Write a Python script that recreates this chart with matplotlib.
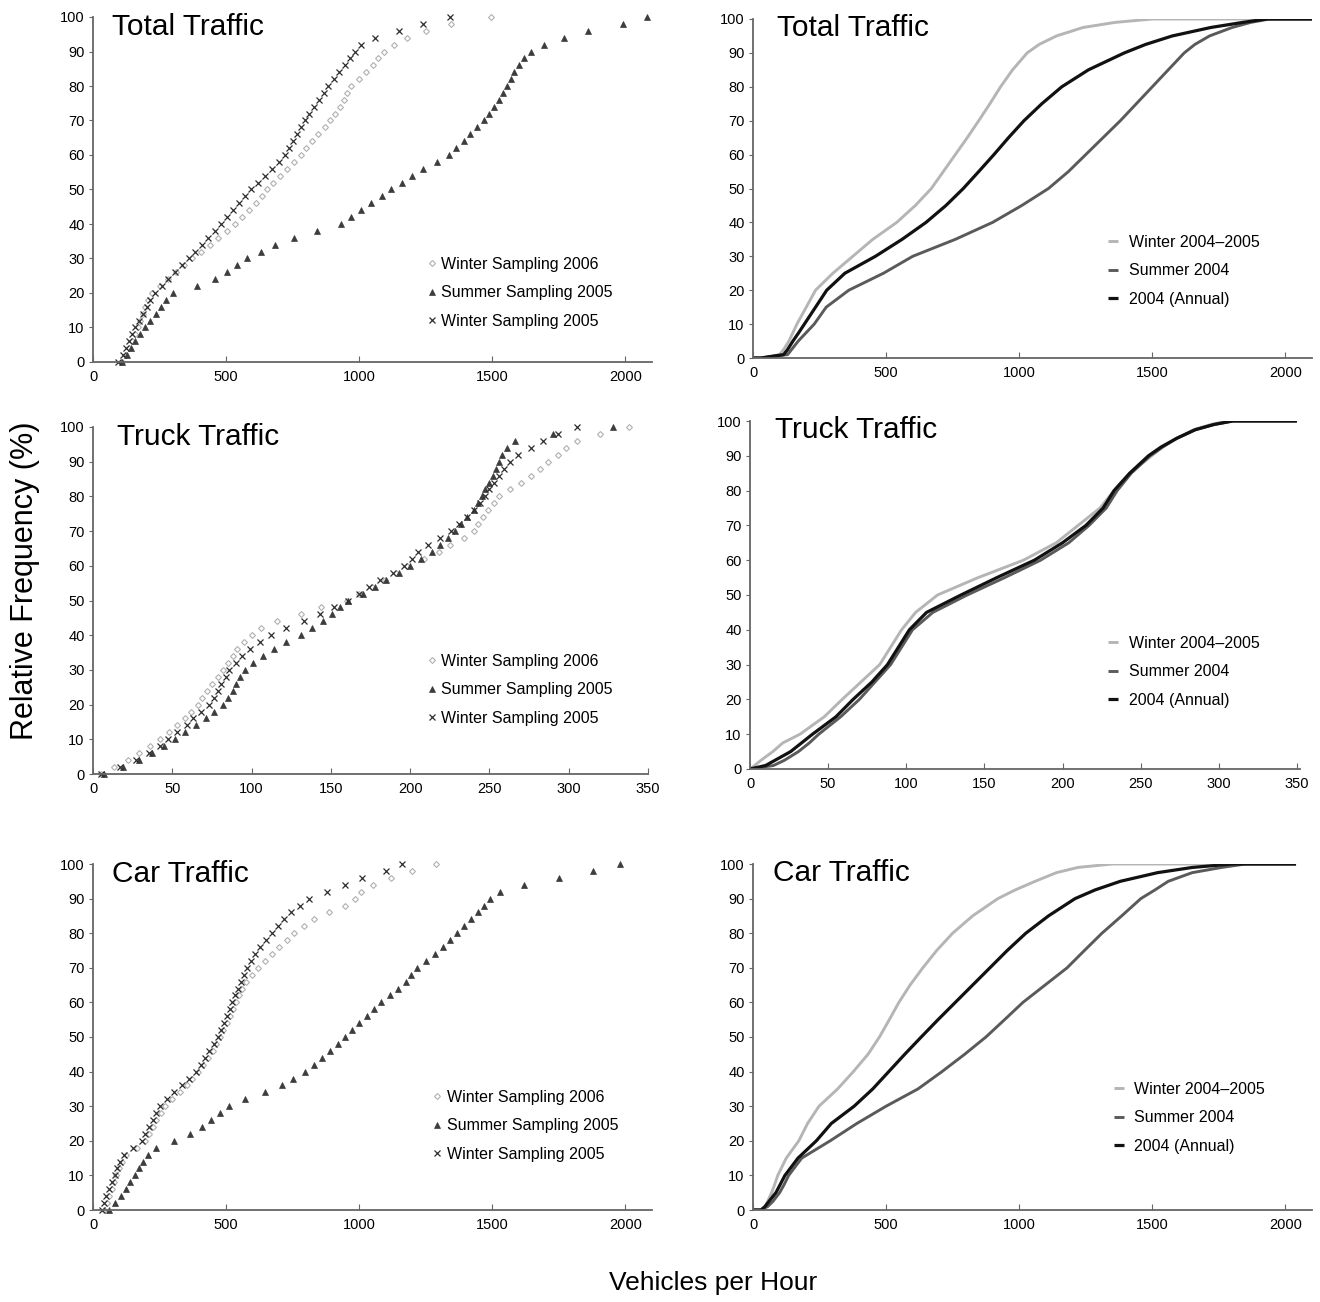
import matplotlib
matplotlib.use("Agg")
import matplotlib.pyplot as plt

plt.rcParams['font.family'] = ['Liberation Sans', 'DejaVu Sans']

# ---------------- DATA ----------------
# Left column: sampled observations (vehicles/hour), sorted; plotted as empirical CDF
pct_levels = [0, 2, 4, 6, 8, 10, 12, 14, 16, 18, 20, 22, 24, 26, 28, 30, 32, 34, 36, 38,
              40, 42, 44, 46, 48, 50, 52, 54, 56, 58, 60, 62, 64, 66, 68, 70, 72, 74, 76, 78,
              80, 82, 84, 86, 88, 90, 92, 94, 96, 98, 100]

total_winter2006 = [110, 122, 134, 146, 158, 168, 178, 188, 197, 208, 222, 252, 280, 311, 343, 372,
                    406, 439, 471, 503, 535, 559, 586, 612, 636, 655, 675, 701, 729, 756, 780,
                    800, 823, 847, 870, 890, 910, 927, 942, 956, 970, 998, 1026, 1050, 1071, 1095,
                    1130, 1180, 1250, 1345, 1495]
total_summer2005 = [110, 126, 142, 159, 176, 195, 215, 235, 255, 276, 300, 390, 460, 502, 540, 577,
                    630, 685, 755, 842, 930, 970, 1008, 1045, 1084, 1121, 1160, 1198, 1240, 1292, 1338,
                    1365, 1392, 1418, 1443, 1467, 1487, 1506, 1524, 1540, 1556, 1570, 1583, 1600, 1620,
                    1644, 1695, 1770, 1860, 1990, 2080]
total_winter2005 = [95, 111, 124, 136, 148, 157, 171, 187, 202, 216, 232, 258, 283, 308, 334, 360,
                    384, 408, 433, 458, 482, 504, 527, 549, 570, 592, 618, 646, 673, 697, 720,
                    736, 752, 767, 781, 795, 813, 831, 849, 866, 884, 905, 925, 945, 965, 985,
                    1008, 1060, 1150, 1240, 1340]

truck_winter2006 = [5, 13, 22, 29, 36, 42, 48, 53, 58, 62, 66, 69, 72, 75, 79, 82, 85, 88, 91, 95,
                    100, 106, 116, 131, 144, 160, 168, 176, 184, 191, 198, 209, 218, 225, 234, 240,
                    243, 246, 249, 253, 256, 263, 270, 276, 282, 287, 293, 298, 305, 320, 338]
truck_summer2005 = [7, 19, 29, 37, 45, 52, 58, 65, 71, 76, 82, 85, 88, 90, 93, 96, 101, 107, 114, 122,
                    131, 138, 145, 151, 156, 161, 170, 178, 185, 193, 200, 207, 214, 219, 224, 228,
                    232, 236, 240, 243, 245, 247, 250, 252, 254, 256, 258, 261, 266, 290, 328]
truck_winter2005 = [5, 17, 27, 35, 42, 47, 53, 59, 63, 68, 73, 76, 79, 81, 84, 86, 90, 94, 99, 105,
                    112, 122, 133, 143, 152, 161, 168, 174, 181, 189, 196, 201, 205, 211, 219, 226,
                    231, 236, 240, 244, 247, 250, 253, 256, 259, 263, 268, 276, 284, 293, 305]

car_winter2006 = [41, 52, 61, 70, 79, 88, 99, 110, 125, 165, 197, 212, 225, 238, 254, 272,
                  298, 326, 352, 373, 395, 415, 433, 449, 463, 476, 490, 503, 515, 526, 537,
                  548, 559, 575, 596, 619, 645, 673, 700, 727, 755, 791, 830, 885, 945, 986,
                  1005, 1050, 1120, 1200, 1290]
car_summer2005 = [61, 84, 106, 124, 140, 156, 173, 189, 205, 235, 306, 365, 410, 445, 478, 510,
                  570, 645, 710, 751, 796, 830, 862, 892, 919, 946, 973, 1000, 1028, 1056, 1082,
                  1114, 1147, 1174, 1196, 1218, 1250, 1283, 1313, 1340, 1367, 1393, 1421, 1446, 1468,
                  1490, 1530, 1620, 1750, 1880, 1980]
car_winter2005 = [34, 42, 50, 60, 71, 82, 92, 103, 118, 150, 184, 197, 211, 225, 238, 252,
                  278, 306, 334, 362, 388, 406, 421, 437, 454, 469, 480, 491, 502, 513, 524,
                  535, 546, 556, 567, 578, 594, 610, 629, 651, 673, 695, 717, 745, 778, 810,
                  880, 945, 1010, 1100, 1160]

# Right column: continuous-count CDFs, x value at each cumulative level (%)
cdf_levels = [0, 0, 1, 2.5, 5, 7.5, 10, 15, 20, 25, 30, 35, 40, 45, 50, 55, 60, 65, 70, 75,
              80, 85, 90, 92.5, 95, 97.5, 99, 100, 100]

tot_winter0405 = [0, 30, 100, 115, 135, 150, 165, 200, 235, 300, 375, 450, 540, 610, 670, 715,
                  760, 805, 848, 890, 930, 975, 1030, 1075, 1140, 1240, 1360, 1500, 2100]
tot_summer04 = [0, 30, 130, 145, 170, 200, 230, 275, 360, 490, 600, 760, 900, 1010, 1110, 1185,
                1250, 1315, 1380, 1440, 1500, 1560, 1620, 1660, 1715, 1800, 1870, 1940, 2100]
tot_annual04 = [0, 30, 115, 130, 150, 172, 193, 235, 277, 345, 460, 560, 650, 725, 790, 848,
                905, 960, 1018, 1085, 1160, 1260, 1395, 1475, 1575, 1720, 1840, 1930, 2100]

trk_winter0405 = [0, 0, 3, 7, 14.6, 21, 32, 47.5, 59, 71, 83, 90, 97, 106, 120, 146,
                  175, 196, 210, 224, 233, 243, 257, 264, 273, 284, 295, 306, 350]
trk_summer04 = [0, 0, 15, 22, 31, 38, 44, 58, 70, 80, 90, 97, 104, 117, 139, 163,
                186, 204, 217, 228, 235, 244, 256, 264, 273, 285, 297, 309, 350]
trk_annual04 = [0, 0, 10, 16, 26, 33, 40, 55, 66, 78, 88, 95, 102, 113, 135, 158,
                182, 200, 215, 226, 233, 243, 255, 263, 273, 285, 297, 309, 350]

car_winter0405 = [0, 30, 45, 55, 70, 82, 93, 125, 172, 205, 248, 318, 377, 432, 475, 512,
                  548, 590, 638, 690, 750, 825, 920, 985, 1060, 1140, 1220, 1350, 2040]
car_summer04 = [0, 30, 55, 75, 100, 118, 134, 183, 290, 390, 500, 620, 710, 795, 875, 945,
                1014, 1097, 1180, 1245, 1311, 1385, 1457, 1510, 1560, 1650, 1760, 1850, 2040]
car_annual04 = [0, 30, 45, 60, 86, 103, 120, 169, 238, 294, 380, 450, 510, 570, 632, 695,
                760, 825, 890, 955, 1025, 1110, 1210, 1285, 1380, 1520, 1650, 1800, 2040]

left_labels = ["Winter Sampling 2006", "Summer Sampling 2005", "Winter Sampling 2005"]
right_labels = ["Winter 2004\u20132005", "Summer 2004", "2004 (Annual)"]
titles = ["Total Traffic", "Truck Traffic", "Car Traffic"]
y_ticks = [0, 10, 20, 30, 40, 50, 60, 70, 80, 90, 100]
x_ticks_big = [0, 500, 1000, 1500, 2000]
x_ticks_truck = [0, 50, 100, 150, 200, 250, 300, 350]

# ---------------- FIGURE ----------------
W, H = 1320, 1302
fig = plt.figure(figsize=(W / 100, H / 100), dpi=100)


def rect(x0, y0, x1, y1):
    return [x0 / W, 1 - y1 / H, (x1 - x0) / W, (y1 - y0) / H]


AX_COL = '#666666'


def style(ax, xmax, xticks):
    ax.set_xlim(0, xmax)
    ax.set_ylim(0, 100)
    for s in ['top', 'right']:
        ax.spines[s].set_visible(False)
    for s in ['left', 'bottom']:
        ax.spines[s].set_color(AX_COL)
        ax.spines[s].set_linewidth(1.3)
    ax.set_yticks(y_ticks)
    ax.set_xticks(xticks)
    ax.tick_params(axis='x', direction='in', length=4, color=AX_COL, labelsize=10.5, pad=6)
    ax.tick_params(axis='y', direction='out', length=3, color=AX_COL, labelsize=10.5, pad=3)


marker_styles = [
    dict(marker='D', markersize=3.0, mfc='white', mec='#b0b0b0', mew=0.8, ls='none'),
    dict(marker='^', markersize=4.0, mfc='#3c3c3c', mec='#3c3c3c', mew=0.5, ls='none'),
    dict(marker='x', markersize=4.0, mec='#2e2e2e', mew=0.9, ls='none'),
]
line_styles = [
    dict(color='#b5b5b5', lw=2.1),
    dict(color='#5a5a5a', lw=2.1),
    dict(color='#111111', lw=2.3),
]

# (axes rect, series, xmax, xticks, legend anchor, title x)
left_sets = [
    (rect(93, 17, 652, 362), [total_winter2006, total_summer2005, total_winter2005], 2100, x_ticks_big,
     (0.592, 0.305), 0.034),
    (rect(93, 427, 648, 774), [truck_winter2006, truck_summer2005, truck_winter2005], 350, x_ticks_truck,
     (0.596, 0.347), 0.043),
    (rect(93, 864, 652, 1210), [car_winter2006, car_summer2005, car_winter2005], 2100, x_ticks_big,
     (0.601, 0.348), 0.034),
]
right_sets = [
    (rect(753, 19, 1312, 358), [tot_winter0405, tot_summer04, tot_annual04], 2100, x_ticks_big,
     (0.635, 0.364), 0.043),
    (rect(750, 421, 1300, 769), [trk_winter0405, trk_summer04, trk_annual04], 352, x_ticks_truck,
     (0.651, 0.383), 0.045),
    (rect(753, 864, 1312, 1210), [car_winter0405, car_summer04, car_annual04], 2100, x_ticks_big,
     (0.645, 0.371), 0.036),
]

for i, (r, series, xmax, xt, lg, tx) in enumerate(left_sets):
    ax = fig.add_axes(r)
    style(ax, xmax, xt)
    for s, lab, st in zip(series, left_labels, marker_styles):
        ax.plot(s, pct_levels, label=lab, clip_on=False, **st)
    ax.text(tx, 1.012, titles[i], transform=ax.transAxes, fontsize=21.5, va='top', ha='left')
    ax.legend(loc='upper left', bbox_to_anchor=lg, frameon=False, fontsize=11.5,
              handlelength=1.0, handletextpad=0.1, labelspacing=0.85, borderpad=0,
              borderaxespad=0, markerscale=1.0)

for i, (r, series, xmax, xt, lg, tx) in enumerate(right_sets):
    ax = fig.add_axes(r)
    style(ax, xmax, xt)
    for s, lab, st in zip(series, right_labels, line_styles):
        ax.plot(s, cdf_levels, label=lab, solid_joinstyle='round', solid_capstyle='butt', **st)
    ax.text(tx, 1.015, titles[i], transform=ax.transAxes, fontsize=21.5, va='top', ha='left')
    ax.legend(loc='upper left', bbox_to_anchor=lg, frameon=False, fontsize=11.5,
              handlelength=0.65, handletextpad=0.65, labelspacing=0.85, borderpad=0,
              borderaxespad=0)

fig.text(25 / W, 1 - 581 / H, "Relative Frequency (%)", rotation=90, fontsize=22,
         ha='center', va='center')
fig.text(713 / W, 1 - 1283 / H, "Vehicles per Hour", fontsize=19, ha='center', va='center')

fig.savefig("out.png", dpi=100)
